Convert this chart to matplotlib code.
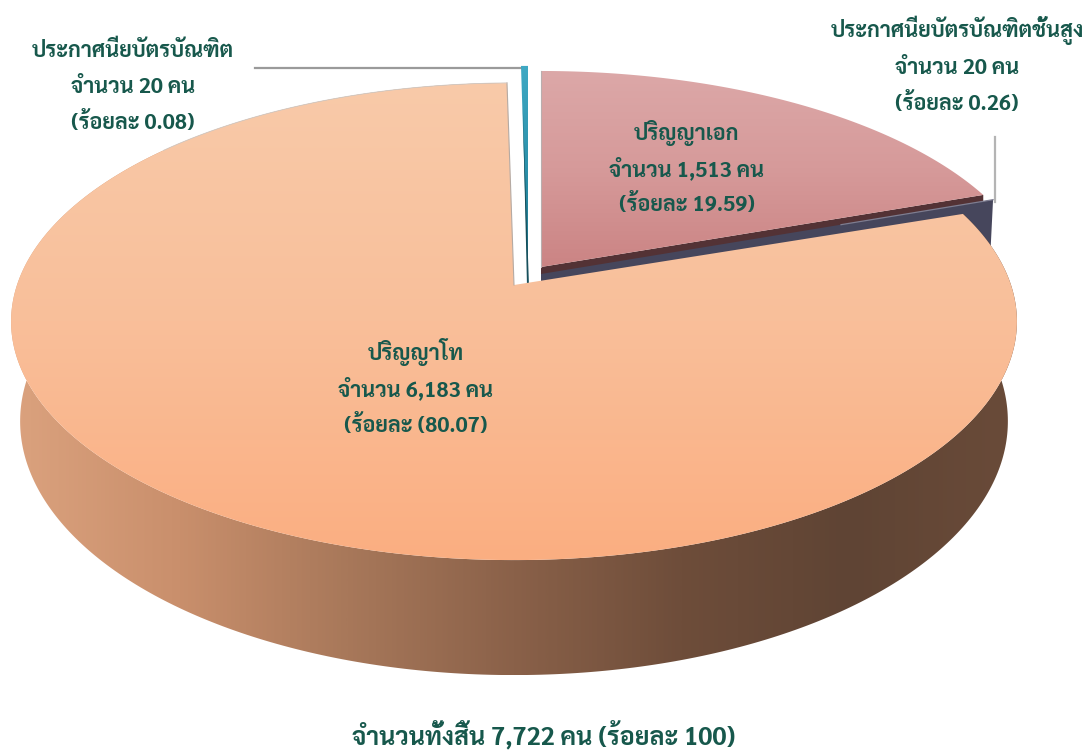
import matplotlib
matplotlib.use('Agg')
import matplotlib.pyplot as plt
from matplotlib.colors import LinearSegmentedColormap
from matplotlib.patches import Polygon
import numpy as np

plt.rcParams['font.family'] = ['Sarabun', 'DejaVu Sans']

# drawn clockwise from 12 o'clock
slices = ['doctoral', 'grad_high', 'master', 'grad']
counts = [1513, 20, 6183, 20]

labels = [
    ['ปริญญาเอก', 'จำนวน 1,513 คน', '(ร้อยละ 19.59)'],
    ['ประกาศนียบัตรบัณฑิตชั้นสูง', 'จำนวน 20 คน', '(ร้อยละ 0.26)'],
    ['ปริญญาโท', 'จำนวน 6,183 คน', '(ร้อยละ (80.07)'],
    ['ประกาศนียบัตรบัณฑิต', 'จำนวน 20 คน', '(ร้อยละ 0.08)'],
]
total_label = 'จำนวนทั้งสิ้น 7,722 คน (ร้อยละ 100)'

# layout, all in pixels of the picture
R = 497.0
S = 233.0
K = 0.153
DEPTH = 115
CX = 514
BOTTOM_SHRINK = 0.982
apex = {'doctoral': (541, 267), 'grad_high': (541, 274), 'master': (CX, 285), 'grad': (528, 268)}
scale = {'doctoral': (0.993, 0.97), 'grad_high': (1.015, 1.0), 'master': (1.0, 1.0), 'grad': (1.0, 1.0)}
label_x = [687, 957, 416, 133]
label_y = [[140, 176, 211], [37, 74, 110], [360, 396, 432], [57, 93, 129]]
text_green = '#17584c'


def rim(name, a0, a1, n=400):
    # a slice's outer edge, a circle seen in perspective
    t = np.radians(np.linspace(a0, a1, n))
    X, Y = np.cos(t), np.sin(t)
    w = 1 + K * Y
    sx, sy = scale[name]
    # the wall is shorter the further back it stands
    depth = DEPTH * (1 - K) / w
    return apex[name][0] + sx * R * X / w, apex[name][1] - sy * S * Y / w, depth


def gradient(ax, poly, colors, horizontal=False):
    # fill a polygon with a colour ramp, clipped to its outline
    cmap = LinearSegmentedColormap.from_list('g', colors)
    ramp = np.linspace(0, 1, 512)
    ramp = ramp[None, :] if horizontal else ramp[:, None]
    x0, y0 = poly.min(axis=0)
    x1, y1 = poly.max(axis=0)
    im = ax.imshow(ramp, cmap=cmap, extent=[x0, x1, y1, y0], aspect='auto', zorder=ax.zcount)
    patch = Polygon(poly, closed=True, transform=ax.transData, fc='none', ec='none')
    ax.add_patch(patch)
    im.set_clip_path(patch)
    ax.zcount += 1


def flat(ax, poly, color):
    ax.add_patch(Polygon(poly, closed=True, fc=color, ec='none', zorder=ax.zcount))
    ax.zcount += 1


fig = plt.figure(figsize=(10.89, 7.51), dpi=100)
ax = fig.add_axes([0, 0, 1, 1])
ax.zcount = 2

shares = np.array(counts) / sum(counts) * 360
ends = 90 - np.cumsum(shares)
starts = ends + shares
span = dict(zip(slices, zip(starts, ends)))

# grey leader lines
ax.plot([255, 524], [68, 68], color='#9a9a9a', lw=1.6, zorder=1)
ax.plot([995, 995], [137, 202], color='#b4b4b4', lw=1.6, zorder=1)

# teal sliver at the back
a0, a1 = span['grad']
rx, ry, d = rim('grad', a0 + 360, a1 + 360, 20)
p = apex['grad']
poly = np.column_stack([np.r_[p[0], rx], np.r_[p[1] + 18, ry]])
gradient(ax, poly, ['#3fa9c4', '#2a8fa8', '#1d6e80'])
rx, ry, d = rim('grad', a0 + 360, (a0 + a1) / 2 + 360, 5)
flat(ax, np.column_stack([np.r_[p[0] - 1, p[0] + 1, rx[2]], np.r_[p[1] + 18, p[1] + 18, ry[2] + 40]]), '#17505c')

# doctoral slice with its cut face
a0, a1 = span['doctoral']
rx, ry, d = rim('doctoral', a0, a1)
p = apex['doctoral']
flat(ax, np.array([[p[0], p[1]], [rx[-1], ry[-1]], [rx[-1], ry[-1] + 40], [p[0], p[1] + 40]]), '#533235')
poly = np.column_stack([np.r_[p[0], rx], np.r_[p[1], ry]])
gradient(ax, poly, ['#dca8a8', '#d69a9a', '#cb8484'])
ax.plot([p[0], rx[0]], [p[1], ry[0]], color='#b9aeae', lw=0.8, zorder=ax.zcount)

# thin dark slice next to it, its cut face hides most of it
a0, a1 = span['grad_high']
rx, ry, d = rim('grad_high', a0, a1, 40)
p = apex['grad_high']
flat(ax, np.array([[p[0], p[1]], [rx[0], ry[0]], [rx[0] - 3, ry[0] + 60], [p[0], p[1] + 60]]), '#46465c')
ax.plot([p[0] + 300, rx[0]], [p[1] - 300 * (p[1] - ry[0]) / (rx[0] - p[0]), ry[0]], color='#7e7d90', lw=0.9, zorder=ax.zcount)
ax.zcount += 1

# big slice, wall first and then the top
a0, a1 = span['master']
rx, ry, d = rim('master', a0, a1)
p = apex['master']
bx = CX + BOTTOM_SHRINK * (rx - CX)
wall = np.column_stack([np.r_[rx, bx[::-1]], np.r_[ry, (ry + d)[::-1]]])
gradient(ax, wall, ['#dba27e', '#c98f6c', '#a8785a', '#8a6149', '#6e4d3a', '#5f4434', '#6a4b39'], horizontal=True)
poly = np.column_stack([np.r_[p[0], rx], np.r_[p[1], ry]])
gradient(ax, poly, ['#f8caa9', '#f9bf9a', '#fbae81'])
ax.plot([p[0], rx[-1]], [p[1], ry[-1]], color='#b5aaa3', lw=0.8, zorder=ax.zcount)
ax.plot(rx[-70:], ry[-70:], color='#d2cac4', lw=0.6, zorder=ax.zcount)
ax.zcount += 1

# labels, one line at a time so the rows stay evenly spaced
text_kw = dict(color=text_green, fontsize=15.5, fontweight='bold', ha='center', va='baseline', zorder=50)
for lines, x, ys in zip(labels, label_x, label_y):
    for line, y in zip(lines, ys):
        ax.text(x, y, line, **text_kw)
ax.text(544, 745, total_label, **{**text_kw, 'fontsize': 18})

ax.set_xlim(0, 1089)
ax.set_ylim(751, 0)
ax.axis('off')
fig.savefig('out.png', dpi=100)
